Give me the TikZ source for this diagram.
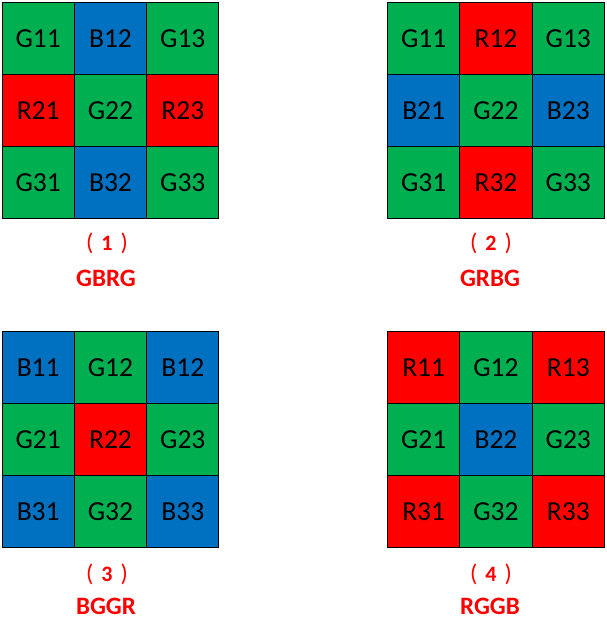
\documentclass[tikz,border=0pt]{standalone}
\usepackage{fontspec}
\setmainfont{Carlito}
\newfontfamily\cjk{Noto Sans CJK SC}
\usepackage{tikz}
\usetikzlibrary{positioning}
\definecolor{bayergreen}{RGB}{0, 176, 80}
\definecolor{bayerblue}{RGB}{0, 112, 192}
\definecolor{bayerred}{RGB}{255, 0, 0}
\newcommand{\fwl}{{\mdseries\fontsize{24}{26}\selectfont(}\hspace{8pt}}
\newcommand{\fwr}{\hspace{8pt}{\mdseries\fontsize{24}{26}\selectfont)}}

\begin{document}
\begin{tikzpicture}[x=1pt, y=-1pt,
      cell/.style={draw=black, line width=1pt, minimum size=72.3pt, inner sep=0pt,
                   outer sep=0pt, font=\fontsize{27.5}{30}\selectfont},
      gcell/.style={cell, fill=bayergreen},
      bcell/.style={cell, fill=bayerblue},
      rcell/.style={cell, fill=bayerred},
      num/.style={text=bayerred, font=\fontsize{22}{24}\selectfont\bfseries},
      pname/.style={text=bayerred, font=\fontsize{25}{28}\selectfont\bfseries}]
    \useasboundingbox (0,0) rectangle (606,638);
    % (1) GBRG
    \node[gcell] (a11) at (38.2,38.2) {G11};
    \node[bcell] (a12) at (110.5,38.2) {B12};
    \node[gcell] (a13) at (182.8,38.2) {G13};
    \node[rcell] (a21) at (38.2,110.5) {R21};
    \node[gcell] (a22) at (110.5,110.5) {G22};
    \node[rcell] (a23) at (182.8,110.5) {R23};
    \node[gcell] (a31) at (38.2,182.8) {G31};
    \node[bcell] (a32) at (110.5,182.8) {B32};
    \node[gcell] (a33) at (182.8,182.8) {G33};
    \node[num] (an) at (107,243) {\fwl1\fwr};
    \node[pname] (ap) at (106,278) {GBRG};
    % (2) GRBG
    \node[gcell] (b11) at (423.7,38.2) {G11};
    \node[rcell] (b12) at (496,38.2) {R12};
    \node[gcell] (b13) at (568.3,38.2) {G13};
    \node[bcell] (b21) at (423.7,110.5) {B21};
    \node[gcell] (b22) at (496,110.5) {G22};
    \node[bcell] (b23) at (568.3,110.5) {B23};
    \node[gcell] (b31) at (423.7,182.8) {G31};
    \node[rcell] (b32) at (496,182.8) {R32};
    \node[gcell] (b33) at (568.3,182.8) {G33};
    \node[num] (bn) at (491,243) {\fwl2\fwr};
    \node[pname] (bp) at (490,278) {GRBG};
    % (3) BGGR
    \node[bcell] (c11) at (38.2,367.2) {B11};
    \node[gcell] (c12) at (110.5,367.2) {G12};
    \node[bcell] (c13) at (182.8,367.2) {B12};
    \node[gcell] (c21) at (38.2,439.5) {G21};
    \node[rcell] (c22) at (110.5,439.5) {R22};
    \node[gcell] (c23) at (182.8,439.5) {G23};
    \node[bcell] (c31) at (38.2,511.8) {B31};
    \node[gcell] (c32) at (110.5,511.8) {G32};
    \node[bcell] (c33) at (182.8,511.8) {B33};
    \node[num] (cn) at (107,574) {\fwl3\fwr};
    \node[pname] (cp) at (106,606) {BGGR};
    % (4) RGGB
    \node[rcell] (d11) at (423.7,367.2) {R11};
    \node[gcell] (d12) at (496,367.2) {G12};
    \node[rcell] (d13) at (568.3,367.2) {R13};
    \node[gcell] (d21) at (423.7,439.5) {G21};
    \node[bcell] (d22) at (496,439.5) {B22};
    \node[gcell] (d23) at (568.3,439.5) {G23};
    \node[rcell] (d31) at (423.7,511.8) {R31};
    \node[gcell] (d32) at (496,511.8) {G32};
    \node[rcell] (d33) at (568.3,511.8) {R33};
    \node[num] (dn) at (491,574) {\fwl4\fwr};
    \node[pname] (dp) at (490,606) {RGGB};
  \end{tikzpicture}
\end{document}
